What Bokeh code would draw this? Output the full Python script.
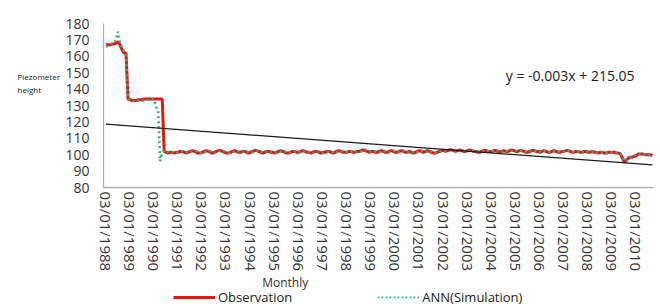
import datetime as dt
from bokeh.plotting import figure
from bokeh.layouts import row, column
from bokeh.models import (FixedTicker, Label, Legend, LegendItem, ColumnDataSource,
                          Range1d)
from bokeh.embed import file_html
from bokeh.resources import INLINE

# ---------------- data ----------------
start_year = 1988
years = list(range(1988, 2011))
tick_labels = ["03/01/%d" % y for y in years]
y_ticks = [80, 90, 100, 110, 120, 130, 140, 150, 160, 170, 180]

observation = [
    # 1988
    167, 167, 167, 167.5, 167.5, 168, 169, 167, 164, 162, 162, 134,
    # 1989
    133.5, 133, 133, 133, 133.5, 133.5, 133.5, 134, 134, 134, 134, 134,
    # 1990
    134, 134, 134, 134, 134, 102.0, 101.5, 101.0, 101.5, 101.5, 101.0, 101.5,
    # 1991
    101.5, 102.0, 102.0, 101.5, 101.0, 101.5, 102.0, 102.5, 102.0, 101.5, 101.0, 101.0,
    # 1992
    101.5, 102.0, 102.5, 102.0, 101.5, 101.0, 101.5, 102.0, 102.5, 102.5, 102.0, 101.5,
    # 1993
    101.0, 101.0, 101.5, 102.0, 102.5, 102.0, 101.5, 101.5, 102.0, 102.0, 101.5, 101.0,
    # 1994
    101.5, 102.0, 102.5, 102.5, 102.0, 101.5, 101.0, 101.5, 102.0, 102.0, 101.5, 101.5,
    # 1995
    101.0, 101.5, 102.0, 102.5, 102.0, 101.5, 101.0, 101.0, 101.5, 102.0, 102.0, 101.5,
    # 1996
    101.5, 102.0, 102.5, 102.0, 101.5, 101.5, 101.0, 101.5, 102.0, 102.0, 101.5, 101.0,
    # 1997
    101.5, 101.5, 102.0, 102.0, 101.5, 101.0, 101.5, 102.0, 102.5, 102.0, 101.5, 101.5,
    # 1998
    101.5, 102.0, 102.0, 101.5, 101.5, 102.0, 102.0, 102.5, 103.0, 102.5, 102.0, 101.5,
    # 1999
    102.0, 102.0, 101.5, 101.5, 102.0, 102.5, 102.0, 101.5, 101.5, 102.0, 102.5, 102.0,
    # 2000
    101.5, 101.5, 102.0, 102.5, 102.0, 101.5, 101.5, 102.0, 101.5, 101.0, 101.5, 102.0,
    # 2001
    102.5, 102.0, 101.5, 102.0, 102.5, 102.0, 101.5, 101.0, 101.0, 101.5, 102.0, 102.5,
    # 2002
    102.5, 102.0, 102.5, 103.0, 103.0, 102.5, 102.0, 102.5, 103.0, 102.5, 102.0, 102.0,
    # 2003
    102.5, 103.0, 102.5, 102.0, 102.0, 101.5, 101.5, 102.0, 102.5, 102.5, 102.0, 102.0,
    # 2004
    102.0, 102.5, 102.5, 102.0, 101.5, 102.0, 102.5, 102.0, 102.0, 102.5, 103.0, 102.5,
    # 2005
    102.0, 102.0, 102.5, 102.5, 102.0, 101.5, 101.5, 102.0, 102.5, 102.5, 102.0, 102.0,
    # 2006
    101.5, 102.0, 102.5, 102.0, 101.5, 101.5, 102.0, 102.5, 102.0, 101.5, 101.5, 102.0,
    # 2007
    102.0, 102.5, 102.5, 102.0, 101.5, 101.5, 102.0, 102.0, 101.5, 101.5, 102.0, 102.0,
    # 2008
    101.5, 101.5, 102.0, 101.5, 101.5, 101.0, 101.5, 101.5, 101.0, 101.0, 101.5, 101.5,
    # 2009
    101.5, 101.5, 101.0, 101.0, 100.5, 98.0, 95.5, 96.5, 98.0, 98.5, 98.5, 99.0,
    # 2010
    99.5, 100.5, 100.5, 100.5, 100.0, 100.0, 100.0, 100.0, 99.5,
]

ann_simulation = [
    # 1988
    166, 166.5, 167, 167.5, 168, 170, 175, 169, 165, 163, 161, 134,
    # 1989
    133, 133, 132.5, 133, 133, 133.5, 133, 133, 133.5, 133.5, 134, 134,
    # 1990
    133.5, 129, 127, 96, 101, 102.5, 101.5, 101.5, 101.0, 101.5, 101.5, 101.0,
    # 1991
    101.5, 101.5, 102.0, 102.0, 101.5, 101.0, 101.5, 102.0, 102.5, 102.0, 101.5, 101.0,
    # 1992
    101.0, 101.5, 102.0, 102.5, 102.0, 101.5, 101.0, 101.5, 102.0, 102.5, 102.0, 102.0,
    # 1993
    101.5, 101.0, 101.0, 101.5, 102.0, 102.5, 102.0, 101.5, 101.5, 102.0, 102.0, 101.5,
    # 1994
    101.0, 101.5, 102.0, 102.5, 102.5, 102.0, 101.5, 101.0, 101.5, 102.0, 102.0, 101.5,
    # 1995
    101.5, 101.0, 101.5, 102.0, 102.5, 102.0, 101.5, 101.0, 101.0, 101.5, 102.0, 102.0,
    # 1996
    101.5, 101.5, 102.0, 102.5, 102.0, 101.5, 101.5, 101.0, 101.5, 102.0, 102.0, 101.5,
    # 1997
    101.0, 101.5, 101.5, 102.0, 102.0, 101.5, 101.0, 101.5, 102.0, 102.5, 102.0, 101.5,
    # 1998
    101.5, 101.5, 102.0, 102.0, 101.5, 101.5, 102.0, 102.0, 102.5, 103.0, 102.5, 102.0,
    # 1999
    101.5, 102.0, 102.0, 101.5, 101.5, 102.0, 102.5, 102.0, 101.5, 101.5, 102.0, 102.5,
    # 2000
    102.0, 101.5, 101.5, 102.0, 102.5, 102.0, 101.5, 101.5, 102.0, 101.5, 101.0, 101.5,
    # 2001
    102.0, 102.5, 102.0, 101.5, 102.0, 102.5, 102.0, 101.5, 101.0, 101.0, 101.5, 102.0,
    # 2002
    102.5, 102.5, 102.0, 102.5, 103.0, 103.0, 102.5, 102.0, 102.5, 103.0, 102.5, 102.0,
    # 2003
    102.0, 102.5, 103.0, 102.5, 102.0, 102.0, 101.5, 101.5, 102.0, 102.5, 102.5, 102.0,
    # 2004
    102.0, 102.0, 102.5, 102.5, 102.0, 101.5, 102.0, 102.5, 102.0, 102.0, 102.5, 103.0,
    # 2005
    102.5, 102.0, 102.0, 102.5, 102.5, 102.0, 101.5, 101.5, 102.0, 102.5, 102.5, 102.0,
    # 2006
    102.0, 101.5, 102.0, 102.5, 102.0, 101.5, 101.5, 102.0, 102.5, 102.0, 101.5, 101.5,
    # 2007
    102.0, 102.0, 102.5, 102.5, 102.0, 101.5, 101.5, 102.0, 102.0, 101.5, 101.5, 102.0,
    # 2008
    102.0, 101.5, 101.5, 102.0, 101.5, 101.5, 101.0, 101.5, 101.5, 101.0, 101.0, 101.5,
    # 2009
    101.5, 101.0, 101.0, 101.0, 100.5, 98.5, 96.0, 96.5, 97.5, 98.5, 99.0, 99.5,
    # 2010
    100.0, 100.5, 100.5, 100.0, 100.0, 100.0, 99.5, 100.0, 99.5,
]

# Excel linear trendline shown on the chart: y = slope * (Excel date serial) + intercept
trend_slope = -0.003
trend_intercept = 215.05
trend_label = "y = -0.003x + 215.05"
y_title_lines = ["Piezometer", "height"]
x_title = "Monthly"
series_names = ["Observation", "ANN(Simulation)"]

# ---------------- derived ----------------
n = len(observation)
months = list(range(n))


def excel_serial(month_index):
    y = start_year + month_index // 12
    m = month_index % 12 + 1
    return (dt.date(y, m, 3) - dt.date(1899, 12, 30)).days


trend_x = [0, n - 1]
trend_y = [trend_slope * excel_serial(i) + trend_intercept for i in trend_x]

src = ColumnDataSource(dict(x=months, obs=observation, ann=ann_simulation))

FONT = "Open Sans"
TXT = "#333333"
RED = "#ee1111"
GREEN = "#2fb07a"

LEFT_W = 62
MAIN_W = 660 - LEFT_W
MAIN_H = 275
FRAME_L, FRAME_R = 102, 653   # page x of the plotting frame


def blank_fig(w, h, xr):
    f = figure(width=w, height=h, output_backend="svg", toolbar_location=None,
               x_axis_location=None, y_axis_location=None,
               x_range=xr, y_range=Range1d(h, 0),
               min_border_left=0, min_border_right=0, min_border_top=0,
               min_border_bottom=0)
    f.outline_line_color = None
    f.grid.visible = False
    f.background_fill_color = "white"
    f.border_fill_color = "white"
    return f


# ---------- main plot ----------
p = figure(width=MAIN_W, height=MAIN_H, output_backend="svg", toolbar_location=None,
           x_range=(-1.2, n - 0.5), y_range=(80, 180),
           min_border_left=FRAME_L - LEFT_W, min_border_right=660 - FRAME_R,
           min_border_top=23, min_border_bottom=MAIN_H - 187)
p.outline_line_color = None
p.grid.visible = False
p.background_fill_color = "white"
p.border_fill_color = "white"

p.line("x", "obs", source=src, line_color=RED, line_width=3)
p.line("x", "ann", source=src, line_color=GREEN, line_width=2.6, line_dash="2 3")
p.line(trend_x, trend_y, line_color="#1a1a1a", line_width=1.3)

p.xaxis.ticker = FixedTicker(ticks=[i * 12 for i in range(len(years))])
p.xaxis.major_label_overrides = {i * 12: lab for i, lab in enumerate(tick_labels)}
p.xaxis.major_label_orientation = "vertical"
p.yaxis.ticker = FixedTicker(ticks=y_ticks)
for ax in (p.xaxis, p.yaxis):
    ax.axis_line_color = "#b0b0b0"
    ax.axis_line_width = 1.3
    ax.major_tick_line_color = None
    ax.minor_tick_line_color = None
    ax.major_tick_out = 0
    ax.major_tick_in = 0
    ax.major_label_text_font = FONT
    ax.major_label_text_color = TXT
p.yaxis.major_label_text_font_size = "14px"
p.yaxis.major_label_standoff = 14
p.xaxis.major_label_text_font_size = "15px"
p.xaxis.major_label_standoff = 4

p.add_layout(Label(x=199, y=148, text=trend_label, text_font=FONT,
                   text_font_size="14px", text_color="#222222",
                   text_baseline="middle", text_align="left"))

# ---------- left strip: y title ----------
lf = blank_fig(LEFT_W, 307, Range1d(0, LEFT_W))
for i, t in enumerate(y_title_lines):
    lf.add_layout(Label(x=17, y=76 + 13 * i, text=t, text_font=FONT,
                        text_font_size="8px", text_color="#222222",
                        text_baseline="middle", text_align="left"))

# ---------- bottom strip: x title + legend ----------
# (its frame is aligned with the main frame by the column layout; x in page px)
BOT_H = 307 - MAIN_H
bf = blank_fig(MAIN_W, BOT_H, Range1d(FRAME_L, FRAME_R))
bf.add_layout(Label(x=261, y=7, text=x_title, text_font=FONT,
                    text_font_size="12px", text_color=TXT,
                    text_baseline="middle", text_align="left"))
# renderers that only feed the legend samples (their points lie off-view)
l_obs = bf.line([0, 10], [-50, -50], line_color=RED, line_width=3)
l_ann = bf.line([0, 10], [-50, -50], line_color="#3cbfae", line_width=2.2,
                line_dash="2 2")
legend = Legend(items=[LegendItem(label=series_names[0], renderers=[l_obs]),
                       LegendItem(label=series_names[1], renderers=[l_ann])],
                location=(172 - FRAME_L, 1), orientation="horizontal",
                glyph_width=42, glyph_height=14, label_height=14,
                label_standoff=3, spacing=85,
                padding=0, margin=0, border_line_color=None,
                background_fill_alpha=0, label_text_font=FONT,
                label_text_font_size="13px", label_text_color="#222222")
bf.add_layout(legend, "center")

layout = row(lf, column(p, bf, spacing=0), spacing=0)
open("out.html", "w").write(file_html(layout, INLINE))
